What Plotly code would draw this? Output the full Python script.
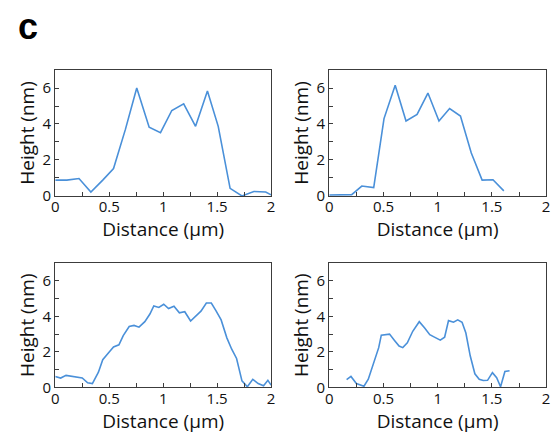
import plotly.graph_objects as go

# Panel 1 (top left)
x1 = [0, 0.107, 0.22, 0.33, 0.44, 0.54, 0.65, 0.755, 0.87, 0.975, 1.08, 1.19, 1.30, 1.41, 1.51, 1.62, 1.73, 1.84, 1.95, 2.0]
y1 = [0.88, 0.88, 0.97, 0.22, 0.88, 1.52, 3.7, 6.0, 3.82, 3.52, 4.75, 5.12, 3.87, 5.83, 3.87, 0.42, 0.0, 0.25, 0.22, 0.06]

# Panel 2 (top right)
x2 = [0, 0.106, 0.207, 0.30, 0.41, 0.505, 0.608, 0.708, 0.81, 0.91, 1.012, 1.11, 1.21, 1.31, 1.41, 1.51, 1.61]
y2 = [0.05, 0.04, 0.07, 0.55, 0.46, 4.3, 6.15, 4.17, 4.53, 5.72, 4.17, 4.86, 4.44, 2.39, 0.88, 0.9, 0.28]

# Panel 3 (bottom left)
x3 = [0, 0.05, 0.10, 0.15, 0.25, 0.30, 0.344, 0.40, 0.44, 0.50, 0.54, 0.59, 0.63, 0.685, 0.73, 0.776,
      0.83, 0.877, 0.913, 0.96, 1.005, 1.05, 1.10, 1.15, 1.20, 1.254, 1.30, 1.35, 1.40, 1.446, 1.49,
      1.537, 1.59, 1.635, 1.68, 1.73, 1.78, 1.83, 1.88, 1.93, 1.97, 2.0]
y3 = [0.62, 0.53, 0.68, 0.62, 0.53, 0.26, 0.22, 0.86, 1.56, 2.0, 2.28, 2.4, 2.92, 3.43, 3.49, 3.39,
      3.7, 4.13, 4.59, 4.5, 4.68, 4.44, 4.57, 4.2, 4.26, 3.74, 4.02, 4.29, 4.75, 4.75, 4.31,
      3.8, 2.79, 2.15, 1.63, 0.37, 0.04, 0.46, 0.22, 0.09, 0.4, 0.13]

# Panel 4 (bottom right)
x4 = [0.16, 0.20, 0.25, 0.32, 0.36, 0.40, 0.456, 0.48, 0.556, 0.60, 0.644, 0.678, 0.72, 0.77, 0.83,
      0.88, 0.927, 0.97, 1.024, 1.064, 1.10, 1.146, 1.185, 1.225, 1.26, 1.30, 1.343, 1.383, 1.42,
      1.46, 1.505, 1.544, 1.58, 1.62, 1.663]
y4 = [0.44, 0.62, 0.22, 0.07, 0.46, 1.23, 2.24, 2.94, 3.0, 2.66, 2.33, 2.24, 2.51, 3.16, 3.7,
      3.34, 2.97, 2.83, 2.66, 2.83, 3.76, 3.67, 3.8, 3.67, 3.06, 1.78, 0.77, 0.46, 0.39,
      0.40, 0.83, 0.55, 0.04, 0.9, 0.94]

x_ticks = [0, 0.5, 1, 1.5, 2]
x_ticklabels = ["0", "0.5", "1", "1.5", "2"]
y_ticks = [0, 2, 4, 6]

W, H = 557, 442
FONT = "Open Sans"
LINE = "#4a90d9"
AX = "#3c3c3c"

panels = [
    (x1, y1, (52, 271), (71.5, 200)),
    (x2, y2, (330, 550), (71.5, 200)),
    (x3, y3, (52, 271), (268.5, 395.5)),
    (x4, y4, (330, 550), (268.5, 395.5)),
]

fig = go.Figure()
layout = {}
for i, (xs, ys, (l, r), (t, b)) in enumerate(panels, start=1):
    sfx = "" if i == 1 else str(i)
    fig.add_trace(go.Scatter(x=xs, y=ys, mode="lines", line=dict(color=LINE, width=1.6),
                             xaxis="x" + sfx, yaxis="y" + sfx, showlegend=False, hoverinfo="skip"))
    layout["xaxis" + sfx] = dict(
        domain=[l / W, r / W], anchor="y" + sfx, range=[0, 2],
        tickvals=x_ticks, ticktext=x_ticklabels, ticks="inside", ticklen=4, tickcolor=AX,
        minor=dict(dtick=0.25, tick0=0, ticks="inside", ticklen=4, tickcolor=AX),
        showline=True, linecolor=AX, linewidth=1.2, mirror=True, showgrid=False, zeroline=False,
        tickfont=dict(family=FONT, size=15, color="#111"), ticklabeloverflow="allow",
        ticklabelstandoff=-3,
        title=dict(text="Distance (µm)", font=dict(family=FONT, size=19, color="#111"), standoff=0),
    )
    layout["yaxis" + sfx] = dict(
        domain=[1 - b / H, 1 - t / H], anchor="x" + sfx, range=[0, 7],
        tickvals=y_ticks, ticks="inside", ticklen=4, tickcolor=AX,
        minor=dict(dtick=1, tick0=0, ticks="inside", ticklen=4, tickcolor=AX),
        showline=True, linecolor=AX, linewidth=1.2, mirror=True, showgrid=False, zeroline=False,
        tickfont=dict(family=FONT, size=15, color="#111"), ticklabeloverflow="allow",
        title=dict(text="Height (nm)", font=dict(family=FONT, size=19, color="#111"), standoff=2),
    )

fig.update_layout(
    width=W, height=H, margin=dict(l=0, r=0, t=0, b=0), autosize=False,
    paper_bgcolor="white", plot_bgcolor="white",
    annotations=[dict(text="<b>c</b>", x=12 / W, y=1 - 27 / H, xref="paper", yref="paper",
                      xanchor="left", yanchor="middle", showarrow=False,
                      font=dict(family="Liberation Sans", size=36, color="black"))],
    **layout,
)

post = (
    "document.documentElement.style.margin='0';"
    "document.body.style.margin='0';document.body.style.overflow='hidden';"
)
fig.write_html("out.html", config={"displayModeBar": False, "responsive": False}, post_script=post)
